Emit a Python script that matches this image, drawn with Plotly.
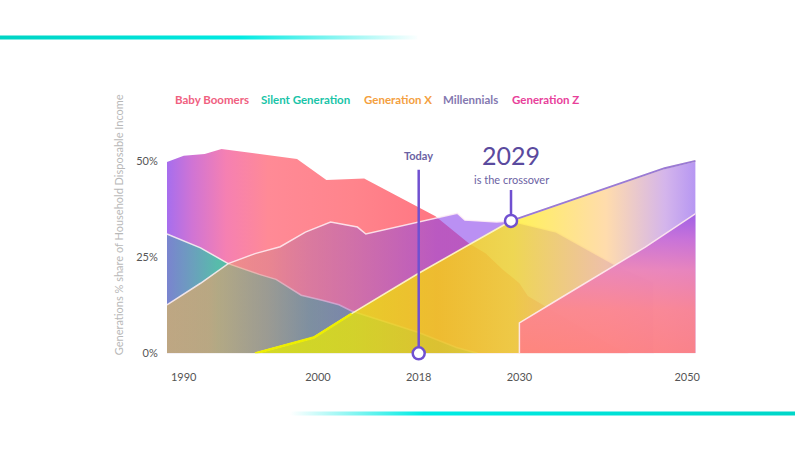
import numpy as np
import plotly.graph_objects as go

# ---------------- data ----------------
series_names = ["Baby Boomers", "Silent Generation", "Generation X", "Millennials", "Generation Z"]
legend_colors = ["#f0607f", "#19c4a8", "#f4a040", "#8478b0", "#e8409a"]

boomers_years = [1988, 1990, 1992.5, 1994.5, 2003.5, 2007, 2011.5, 2015, 2020, 2024, 2026, 2028, 2030, 2031, 2033, 2037, 2041, 2043]
boomers_share = [49.7, 51.3, 51.8, 53.1, 50.5, 45.0, 45.4, 41.3, 35.6, 28.5, 25.9, 21.8, 18.2, 14.9, 12.3, 7.0, 2.0, 0.0]

silent_years = [1988, 1992, 1995.3, 1999, 2001, 2004, 2006.5, 2008.5, 2010, 2018, 2022.5, 2025]
silent_share = [31.0, 27.4, 23.3, 20.5, 19.2, 15.1, 13.8, 12.6, 11.0, 5.4, 1.5, 0.0]

genx_years = [1988, 1992, 1995.3, 1998.5, 2001.5, 2004.5, 2007.5, 2010.7, 2011.7, 2020.2, 2022.6, 2023.5, 2027.3, 2029, 2034.4, 2041.3, 2046, 2046]
genx_share = [12.6, 18.2, 23.3, 25.9, 27.7, 31.5, 34.1, 32.8, 31.0, 35.1, 36.4, 34.6, 34.1, 34.4, 31.5, 23.1, 18.5, 0.0]

mill_years = [1998.5, 2005.5, 2010, 2018, 2029, 2040, 2047.3, 2051]
mill_share = [0.0, 4.1, 10.3, 20.8, 34.4, 42.7, 48.1, 50.0]

genz_years = [2030, 2030, 2035, 2040, 2045, 2051]
genz_share = [0.0, 7.9, 14.5, 21.0, 27.6, 36.3]

x_tick_vals = [1990, 2006, 2018, 2030, 2050]
x_tick_text = ["1990", "2000", "2018", "2030", "2050"]
y_tick_vals = [0, 25, 50]
y_tick_text = ["0%", "25%", "50%"]

today_year = 2018
crossover_year = 2029
y_title = "Generations % share of Household Disposable Income"

FONT = "Lato"
X0, X1 = 1988, 2051


def scale(stops, start, stop):
    return [[(s - start) / (stop - start), c] for s, c in stops]


def area(x, y, stops, line_color="rgba(0,0,0,0)", line_width=0, gtype="horizontal", start=X0, stop=X1):
    return go.Scatter(
        x=x, y=y, mode="lines", fill="tozeroy",
        fillgradient=dict(type=gtype, colorscale=scale(stops, start, stop), start=start, stop=stop),
        line=dict(color=line_color, width=line_width),
        hoverinfo="skip", showlegend=False,
    )


fig = go.Figure()

# Baby Boomers (back)
fig.add_trace(area(boomers_years, boomers_share, [
    (1988, "rgb(166,110,238)"), (1991, "rgb(208,116,212)"), (1995, "rgb(245,128,178)"),
    (2000, "rgb(255,138,150)"), (2010, "rgb(255,132,140)"), (2020, "rgb(255,118,130)"),
    (2051, "rgb(255,110,125)")]))

# Silent Generation
fig.add_trace(area(silent_years, silent_share, [
    (1988, "rgba(105,140,195,0.72)"), (1994, "rgba(30,212,165,0.72)"),
    (2005, "rgba(0,195,150,0.72)"), (2051, "rgba(0,190,150,0.72)")],
    line_color="rgba(255,245,245,0.85)", line_width=1.5))

# Generation X
fig.add_trace(area(genx_years, genx_share, [
    (1988, "rgba(235,190,80,0.6)"), (1993, "rgba(245,160,100,0.6)"), (2000, "rgba(215,130,140,0.55)"),
    (2005, "rgba(180,108,172,0.5)"), (2020, "rgba(140,70,235,0.6)"), (2051, "rgba(140,70,235,0.6)")],
    line_color="rgba(255,240,245,0.85)", line_width=1.5))

# Millennials
fig.add_trace(area(mill_years, mill_share, [
    (1988, "rgba(230,238,0,0.75)"), (1998.5, "rgba(230,238,0,0.75)"), (2010, "rgba(240,235,0,0.75)"),
    (2020, "rgba(255,220,0,0.75)"), (2029, "rgba(255,238,30,0.75)"), (2040, "rgba(255,208,145,0.75)"),
    (2047, "rgba(200,160,230,0.78)"), (2051, "rgba(160,120,240,0.8)")],
    line_color="rgba(255,250,200,0.9)", line_width=1.6))

# Millennials line accents (yellow early, purple after the crossover)
early = [i for i, yv in enumerate(mill_years) if yv <= 2010]
late = [i for i, yv in enumerate(mill_years) if yv >= crossover_year]
fig.add_trace(go.Scatter(x=[mill_years[i] for i in early], y=[mill_share[i] for i in early],
                         mode="lines", line=dict(color="#eeee00", width=2.4), hoverinfo="skip", showlegend=False))
fig.add_trace(go.Scatter(x=[mill_years[i] for i in late], y=[mill_share[i] for i in late],
                         mode="lines", line=dict(color="#9a7ad6", width=2), hoverinfo="skip", showlegend=False))

# Generation Z (front)
fig.add_trace(area(genz_years, genz_share, [
    (0, "rgba(255,128,128,0.92)"), (12, "rgba(252,132,145,0.92)"), (22, "rgba(235,130,185,0.92)"),
    (30, "rgba(200,110,215,0.92)"), (37, "rgba(155,90,230,0.92)")],
    line_color="rgba(255,235,240,0.9)", line_width=1.5, gtype="vertical", start=0, stop=37))

# Today & crossover markers
cross_val = float(np.interp(crossover_year, mill_years, mill_share))
PURPLE = "#7050d0"
fig.add_trace(go.Scatter(x=[today_year, today_year], y=[0, 47.7], mode="lines",
                         line=dict(color=PURPLE, width=2.5), hoverinfo="skip", showlegend=False, cliponaxis=False))
fig.add_trace(go.Scatter(x=[crossover_year, crossover_year], y=[cross_val, 42.4], mode="lines",
                         line=dict(color=PURPLE, width=2.5), hoverinfo="skip", showlegend=False, cliponaxis=False))
fig.add_trace(go.Scatter(x=[today_year, crossover_year], y=[0, cross_val], mode="markers",
                         marker=dict(size=12, color="white", line=dict(color=PURPLE, width=2.5)),
                         hoverinfo="skip", showlegend=False, cliponaxis=False))

# decorative teal bars (whole-figure pixel axes)
fig.add_trace(go.Scatter(x=[0, 420, 420, 0, 0], y=[36, 36, 40, 40, 36], mode="lines", fill="toself",
                         fillgradient=dict(type="horizontal", start=0, stop=420,
                                           colorscale=[[0, "rgba(0,212,196,1)"], [0.57, "rgba(0,234,226,1)"], [1, "rgba(0,234,226,0)"]]),
                         line=dict(width=0, color="rgba(0,0,0,0)"), xaxis="x2", yaxis="y2",
                         hoverinfo="skip", showlegend=False))
fig.add_trace(go.Scatter(x=[290, 800, 800, 290, 290], y=[417, 417, 421, 421, 417], mode="lines", fill="toself",
                         fillgradient=dict(type="horizontal", start=290, stop=800,
                                           colorscale=[[0, "rgba(0,234,226,0)"], [0.26, "rgba(0,236,228,1)"], [1, "rgba(0,214,200,1)"]]),
                         line=dict(width=0, color="rgba(0,0,0,0)"), xaxis="x2", yaxis="y2",
                         hoverinfo="skip", showlegend=False))

annotations = [
    dict(x=today_year, y=51.3, xref="x", yref="y", text="<b>Today</b>", showarrow=False,
         font=dict(family=FONT, size=11, color="#6b62a3")),
    dict(x=crossover_year, y=51.6, xref="x", yref="y", text=str(crossover_year), showarrow=False,
         yanchor="middle", font=dict(family=FONT, size=25, color="#5a4a9e")),
    dict(x=crossover_year, y=45.2, xref="x", yref="y", text="is the crossover", showarrow=False,
         yanchor="middle", font=dict(family=FONT, size=11, color="#6b62a3")),
    dict(x=119 / 800, y=(457 - 228) / 457, xref="paper", yref="paper", text=y_title, textangle=-90,
         showarrow=False, xanchor="center", yanchor="middle", font=dict(family=FONT, size=11, color="#b8b8b8")),
]
legend_x = [174, 261, 364, 444, 513]
for name, col, lx in zip(series_names, legend_colors, legend_x):
    annotations.append(dict(x=lx / 800, y=(457 - 101) / 457, xref="paper", yref="paper", xanchor="left",
                            yanchor="middle", text="<b>%s</b>" % name, showarrow=False,
                            font=dict(family=FONT, size=11.5, color=col)))

fig.update_layout(
    width=800, height=457, margin=dict(l=0, r=0, t=0, b=0),
    paper_bgcolor="white", plot_bgcolor="rgba(0,0,0,0)",
    showlegend=False,
    font=dict(family=FONT),
    xaxis=dict(domain=[168 / 800, 700 / 800], range=[X0, X1], tickvals=x_tick_vals, ticktext=x_tick_text,
               showgrid=False, zeroline=False, showline=False, ticks="outside", ticklen=14,
               tickcolor="rgba(0,0,0,0)", tickfont=dict(family=FONT, size=11, color="#555555"), fixedrange=True),
    yaxis=dict(domain=[(457 - 358) / 457, (457 - 143.5) / 457], range=[0, 55], tickvals=y_tick_vals,
               ticktext=y_tick_text, showgrid=False, zeroline=False, showline=False, ticks="outside",
               ticklen=6, tickcolor="rgba(0,0,0,0)", tickfont=dict(family=FONT, size=11, color="#555555"),
               fixedrange=True),
    xaxis2=dict(domain=[0, 1], range=[0, 800], visible=False, anchor="y2", fixedrange=True),
    yaxis2=dict(domain=[0, 1], range=[457, 0], visible=False, anchor="x2", fixedrange=True),
    annotations=annotations,
)

fig.write_html("out.html")
